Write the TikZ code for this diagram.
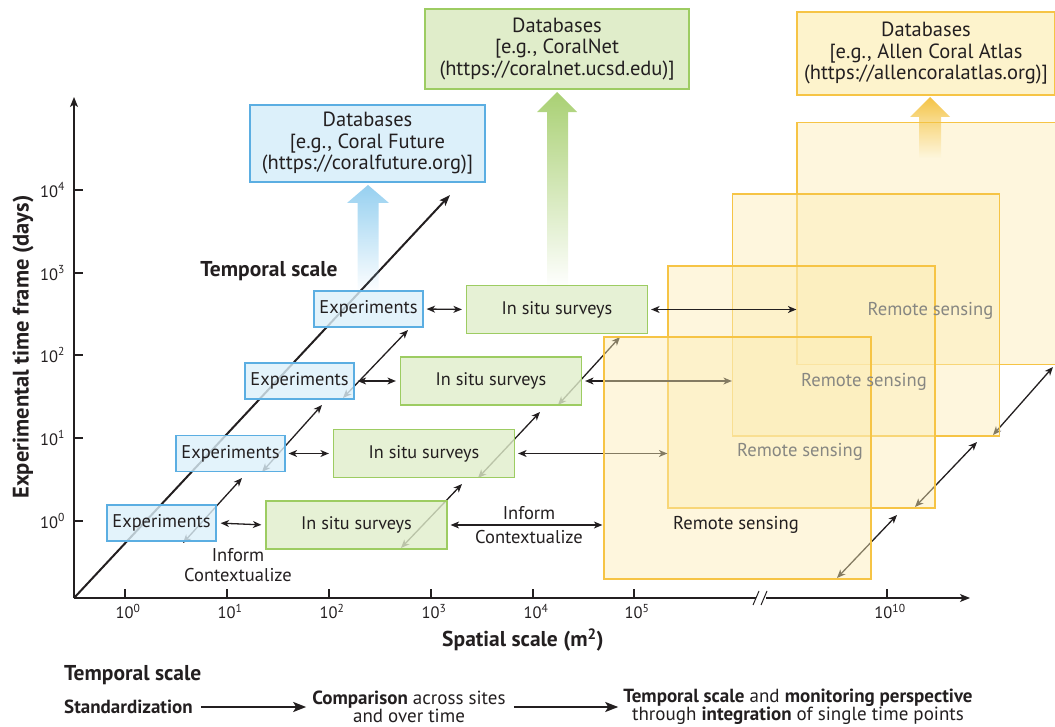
\documentclass[tikz,border=0pt]{standalone}
\usepackage{fontspec}
\setmainfont{PT Sans}
\usetikzlibrary{arrows.meta,calc,fadings}
\definecolor{txt}{RGB}{35,31,32}
\definecolor{bluefill}{RGB}{220,240,250}
\definecolor{bluedraw}{RGB}{91,174,226}
\definecolor{greenfill}{RGB}{224,237,202}
\definecolor{greendraw}{RGB}{157,204,98}
\definecolor{ylwfill}{RGB}{252,236,180}
\definecolor{ylwdbfill}{RGB}{253,243,204}
\definecolor{ylwdraw}{RGB}{246,196,69}
\definecolor{arrblue}{RGB}{150,208,240}
\definecolor{arrgreen}{RGB}{169,208,115}
\definecolor{arryellow}{RGB}{244,195,67}
\definecolor{rsgray}{RGB}{135,135,130}
\tikzfading[name=halffade, top color=transparent!0, middle color=transparent!0, bottom color=transparent!100]
\tikzset{
  exbox/.style={draw=bluedraw, fill=bluefill, fill opacity=0.8, text opacity=1, draw opacity=1, line width=1.2pt, minimum width=109pt, minimum height=36pt, inner sep=0pt, text=txt, font=\fontsize{18.4}{21}\selectfont},
  gbox/.style={draw=greendraw, fill=greenfill, fill opacity=0.8, text opacity=1, draw opacity=1, line width=1.2pt, minimum width=181pt, minimum height=48pt, inner sep=0pt, text=txt, font=\fontsize{18.2}{21}\selectfont},
  ybox/.style={draw=ylwdraw, fill=ylwfill, fill opacity=0.45, draw opacity=1, line width=1.2pt, minimum width=267pt, minimum height=242pt, inner sep=0pt},
  dbbox/.style={line width=1.2pt, inner sep=0pt, align=center, text=txt, font=\fontsize{20.5}{21.5}\selectfont},
  dbl/.style={{Stealth[length=8.5pt,width=7pt,inset=2.5pt]}-{Stealth[length=8.5pt,width=7pt,inset=2.5pt]}, line width=1.3pt, draw=txt},
  axis/.style={line width=1.3pt, draw=txt},
  ticklab/.style={text=txt, font=\fontsize{16.5}{18}\selectfont, inner sep=0pt},
  lab/.style={text=txt, font=\fontsize{18.5}{21}\selectfont, inner sep=0pt},
  biglab/.style={text=txt, font=\fontsize{21.5}{24}\selectfont\bfseries, inner sep=0pt},
  ylabst/.style={text=txt, font=\fontsize{22.5}{25}\selectfont\bfseries, inner sep=0pt},
  botlab/.style={text=txt, font=\fontsize{19}{18.5}\selectfont, inner sep=0pt, align=center},
  bigarrow/.style={-{Stealth[length=13pt,width=10pt,inset=3pt]}, line width=2pt, draw=txt},
  rslab/.style={font=\fontsize{18.6}{21}\selectfont, inner sep=0pt}
}
\begin{document}
\begin{tikzpicture}[x=1pt,y=-1pt]
\useasboundingbox (0,0) rectangle (1055,727);

% ---------------- axes
\coordinate (O) at (74,598);
\coordinate (ytop) at (74,97);
\coordinate (xend) at (970,598);
\draw[axis, -{Stealth[length=10pt,width=8pt,inset=2.5pt]}] (O) -- (ytop);
\draw[axis, -{Stealth[length=10pt,width=8pt,inset=2.5pt]}] (O) -- (xend);
% break
\fill[white] (756,592) rectangle (766,604);
\draw[line width=1pt, txt] (753,605) -- (759,591);
\draw[line width=1pt, txt] (761,605) -- (767,591);

\foreach \y/\e in {521/0,438/1,355/2,273/3,190/4}{
  \draw[axis] (74,\y) -- (83,\y);
  \node[ticklab, anchor=east] at (65,\y) {10\textsuperscript{\e}};
}
\foreach \x/\e in {125/0,227/1,329/2,431/3,533/4,634/5,887/10}{
  \draw[axis] (\x,598) -- (\x,589);
  \node[ticklab, anchor=north] at (\x+3,604) {10\textsuperscript{\e}};
}
\node[ylabst, rotate=90] (ylab) at (23,347) {Experimental time frame (days)};
\node[biglab] (xlab) at (523,640) {Spatial scale (m\textsuperscript{2})};
\node[biglab] (tsin) at (269,271) {Temporal scale};

% ---------------- node positions
\coordinate (e1c) at (161.5,523);
\coordinate (e2c) at (230.5,453.5);
\coordinate (e3c) at (299.5,381);
\coordinate (e4c) at (368.5,309);
\coordinate (g1c) at (356.5,525);
\coordinate (g2c) at (424,453.5);
\coordinate (g3c) at (491,381);
\coordinate (g4c) at (557,309.5);

% main diagonal
\coordinate (diagend) at (450,195);
\draw[line width=2pt, txt, -{Stealth[length=11pt,width=8pt,inset=2.5pt]}] (O) -- (diagend);

% inter-row diagonal double arrows
\foreach \n/\ax/\ay/\bx/\by in {1/183/543/242/478, 2/262/472/322/405, 3/343/398/408/330,
    4/401/548/462/484, 5/478/478/540/412, 6/558/405/620/337,
    7/837/578/897/515, 8/915/507/977/442, 9/993/435/1053/367}{
  \coordinate (da\n) at (\ax,\ay);
  \coordinate (db\n) at (\bx,\by);
  \draw[dbl] (da\n) -- (db\n);
}

% ---------------- yellow remote sensing boxes (back to front)
\node[ybox] (y4) at (930.5,243.5) {};
\node[ybox] (y3) at (866,315) {};
\node[ybox] (y2) at (801.5,387) {};

\node[gbox, draw=none, fill=none] (g1) at (g1c) {};
\node[gbox, draw=none, fill=none] (g2) at (g2c) {};
\node[gbox, draw=none, fill=none] (g3) at (g3c) {};
\node[gbox, draw=none, fill=none] (g4) at (g4c) {};
\draw[dbl, shorten <=3pt] (g4.east) -- (g4.east -| y4.west);
\draw[dbl, shorten <=3pt] (g3.east) -- (g3.east -| y3.west);
\draw[dbl, shorten <=3pt] (g2.east) -- (g2.east -| y2.west);

\node[ybox] (y1) at (737.5,458) {};
\draw[dbl, shorten <=3pt, shorten >=1pt] (g1.east) -- (g1.east -| y1.west);

\node[lab] (inf2) at (529,513) {Inform};
\node[lab] (ctx2) at (529,537) {Contextualize};

% remote sensing labels
\node[rslab, text=rsgray] (rs4) at ($(y4)+(0,67.5)$) {Remote sensing};
\node[rslab, text=rsgray] (rs3) at ($(y3)+(-2,67)$) {Remote sensing};
\node[rslab, text=rsgray] (rs2) at ($(y2)+(-1.5,65)$) {Remote sensing};
\node[rslab, text=txt] (rs1) at ($(y1)+(-1.5,67)$) {Remote sensing};

% ---------------- big fading arrows to databases
\fill[arrblue, path fading=halffade] (357.5,293) -- (357.5,203) -- (347,203) -- (368,185) -- (389,203) -- (378.5,203) -- (378.5,293) -- cycle;
\fill[arrgreen, path fading=halffade] (547,287) -- (547,112) -- (537,112) -- (557,92) -- (577,112) -- (568,112) -- (568,287) -- cycle;
\fill[arryellow, path fading=halffade] (919,158) -- (919,117) -- (910,117) -- (930,97) -- (950,117) -- (941,117) -- (941,158) -- cycle;

% ---------------- database boxes
\node[dbbox, draw=bluedraw, fill=bluefill, minimum width=235pt, minimum height=77pt] (dbb) at (367.5,143.5)
  {Databases\\{}[e.g., Coral Future\\(https://coralfuture.org)]};
\node[dbbox, draw=greendraw, fill=greenfill, minimum width=264pt, minimum height=80pt] (dbg) at (557,49)
  {Databases\\{}[e.g., CoralNet\\(https://coralnet.ucsd.edu)]};
\node[dbbox, draw=ylwdraw, fill=ylwdbfill, minimum width=258pt, minimum height=83pt] (dby) at (926,53.5)
  {Databases\\{}[e.g., Allen Coral Atlas\\(https://allencoralatlas.org)]};

% ---------------- experiment and survey boxes
\node[exbox] (e1) at (e1c) {Experiments};
\node[exbox] (e2) at (e2c) {Experiments};
\node[exbox] (e3) at (e3c) {Experiments};
\node[exbox] (e4) at (e4c) {Experiments};
\node[gbox] at (g1c) {In situ surveys};
\node[gbox] at (g2c) {In situ surveys};
\node[gbox] at (g3c) {In situ surveys};
\node[gbox] at (g4c) {In situ surveys};

\draw[dbl, shorten <=4pt, shorten >=4pt] (e1.east) -- (g1.west);
\draw[dbl, shorten <=3pt, shorten >=4pt] (e2.east) -- (g2.west);
\draw[dbl, shorten <=3pt, shorten >=4pt] (e3.east) -- (g3.west);
\draw[dbl, shorten <=3pt, shorten >=4pt] (e4.east) -- (g4.west);

\node[lab] (inf1) at (238,555) {Inform};
\node[lab] (ctx1) at (238,575) {Contextualize};

% ---------------- bottom legend
\node[biglab, anchor=west] (tsb) at (64,675) {Temporal scale};
\node[botlab, anchor=west] (std) at (64,707) {\bfseries Standardization};
\node[botlab] (cmp) at (409,707) {\textbf{Comparison} across sites\\and over time};
\node[botlab] (tsm) at (798,707) {\textbf{Temporal scale} and \textbf{monitoring perspective}\\through \textbf{integration} of single time points};
\draw[bigarrow] ($(std.east)+(8,0)$) -- ($(cmp.west)+(-6,0)$);
\draw[bigarrow] ($(cmp.east)+(8,0)$) -- ($(tsm.west)+(-5,0)$);
\end{tikzpicture}
\end{document}
